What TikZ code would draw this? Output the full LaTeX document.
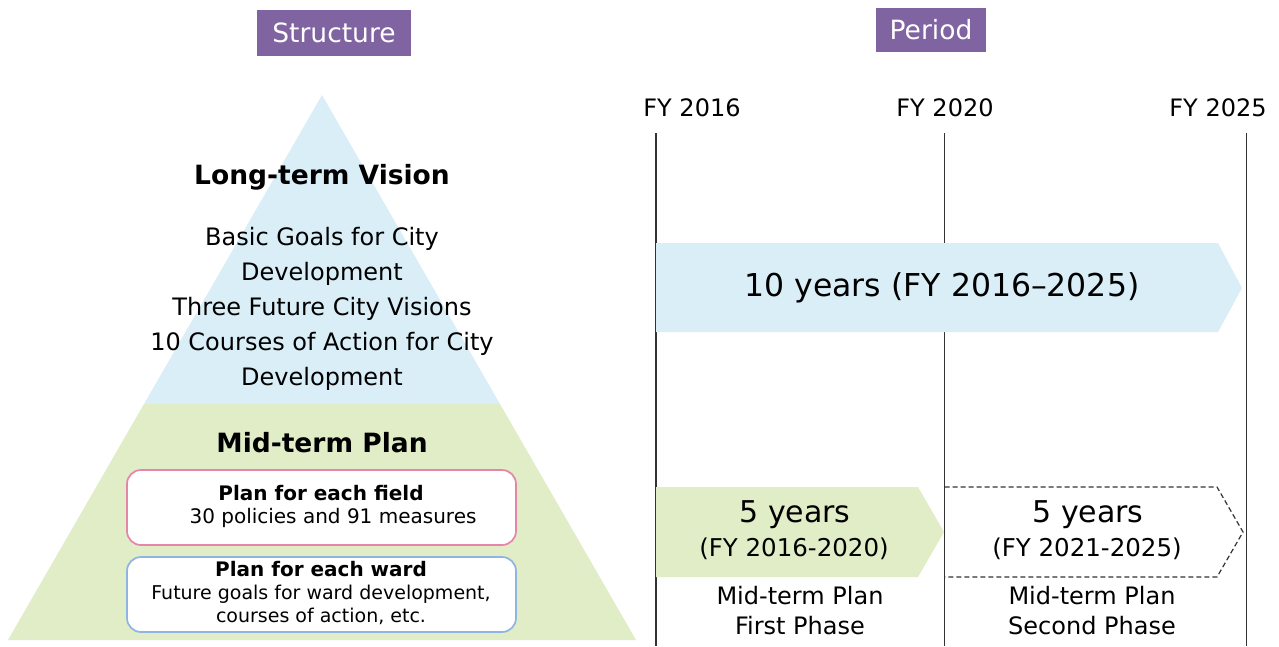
\documentclass[tikz,border=0pt]{standalone}
\usepackage{fontspec}
\setmainfont{DejaVu Sans}
\definecolor{hdrpurple}{HTML}{8064A2}
\definecolor{skyfill}{HTML}{DAEEF8}
\definecolor{leaffill}{HTML}{E0EDC6}
\definecolor{pinkline}{HTML}{E586A8}
\definecolor{blueline}{HTML}{8EB4E3}
\definecolor{axisline}{HTML}{333333}
\tikzset{
  hdrbox/.style={fill=hdrpurple, text=white, inner sep=0pt, font=\fontsize{26.5}{30}\selectfont},
  bodytxt/.style={align=center, inner sep=0pt, font=\fontsize{24}{35}\selectfont},
  headtxt/.style={inner sep=0pt, font=\fontsize{26.5}{30}\selectfont\bfseries},
  plancard/.style={draw, line width=1.7pt, fill=white, rounded corners=14pt, minimum width=389pt, minimum height=75pt},
  smalltxt/.style={align=center, inner sep=0pt, font=\fontsize{20}{24}\selectfont},
  yeartxt/.style={inner sep=0pt, font=\fontsize{24}{30}\selectfont},
  axis/.style={draw=axisline, line width=1.5pt},
  dashedge/.style={draw=axisline, line width=1.2pt, dash pattern=on 5pt off 3pt},
}
\begin{document}
\begin{tikzpicture}[x=1pt,y=-1pt]
\useasboundingbox (0,0) rectangle (1279,646);
\fill[white] (0,0) rectangle (1279,646);

% headers
\node[hdrbox, minimum width=154pt, minimum height=46pt] (structure) at (334,33) {Structure};
\node[hdrbox, minimum width=110pt, minimum height=44pt] (period) at (931,30) {Period};

% pyramid
\coordinate (apex) at (322,95);
\coordinate (baseL) at (8,640);
\coordinate (baseR) at (636,640);
\coordinate (splitL) at (144,404);
\coordinate (splitR) at (500,404);
\fill[skyfill] (apex) -- (splitL) -- (splitR) -- cycle;
\fill[leaffill] (splitL) -- (baseL) -- (baseR) -- (splitR) -- cycle;

\node[headtxt] (ltv) at (322,177) {Long-term Vision};
\node[bodytxt] (ltvbody) at (322,309) {Basic Goals for City\\Development\\Three Future City Visions\\10 Courses of Action for City\\Development};
\node[headtxt] (mtp) at (322,443) {Mid-term Plan};

\node[plancard, draw=pinkline] (field) at (321.5,507.5) {};
\node[smalltxt, font=\fontsize{20}{24}\selectfont\bfseries] (fieldhead) at (321,493) {Plan for each field};
\node[smalltxt] (fieldbody) at (333,518) {30 policies and 91 measures};

\node[plancard, draw=blueline] (ward) at (321.5,594.5) {};
\node[smalltxt, font=\fontsize{20}{24}\selectfont\bfseries] (wardhead) at (321,569) {Plan for each ward};
\node[smalltxt, font=\fontsize{19}{23.5}\selectfont] (wardbody) at (321,605) {Future goals for ward development,\\courses of action, etc.};

% timeline
\node[yeartxt] (fy16) at (692,108) {FY 2016};
\node[yeartxt] (fy20) at (945,108) {FY 2020};
\node[yeartxt] (fy25) at (1218,108) {FY 2025};
\coordinate (t16) at (656,133);
\coordinate (b16) at (656,646);
\coordinate (t20) at (944.5,133);
\coordinate (b20) at (944.5,646);
\coordinate (t25) at (1246.5,133);
\coordinate (b25) at (1246.5,646);
\draw[axis] (t16) -- (b16);
\draw[axis] (t20) -- (b20);
\draw[axis] (t25) -- (b25);

% 10 years arrow
\fill[skyfill] (656,243) -- (1218,243) -- (1242,288) -- (1218,332) -- (656,332) -- cycle;
\node[inner sep=0pt, font=\fontsize{31.5}{36}\selectfont] (ten) at (942,288) {10 years (FY 2016–2025)};

% first phase arrow
\fill[leaffill] (656,487) -- (918,487) -- (944,532) -- (918,577) -- (656,577) -- cycle;
\node[inner sep=0pt, font=\fontsize{30}{34}\selectfont] (five1) at (795,515) {5 years};
\node[inner sep=0pt, font=\fontsize{24.5}{30}\selectfont] (five1p) at (794,549) {(FY 2016-2020)};

% second phase arrow (dashed)
\draw[dashedge] (944.5,487) -- (1217,487) -- (1243,532) -- (1217,577) -- (944.5,577);
\node[inner sep=0pt, font=\fontsize{30}{34}\selectfont] (five2) at (1088,515) {5 years};
\node[inner sep=0pt, font=\fontsize{24.5}{30}\selectfont] (five2p) at (1087,549) {(FY 2021-2025)};

% phase labels
\node[bodytxt, font=\fontsize{24}{30}\selectfont] (ph1) at (800,611) {Mid-term Plan\\First Phase};
\node[bodytxt, font=\fontsize{24}{30}\selectfont] (ph2) at (1092,611) {Mid-term Plan\\Second Phase};
\end{tikzpicture}
\end{document}
